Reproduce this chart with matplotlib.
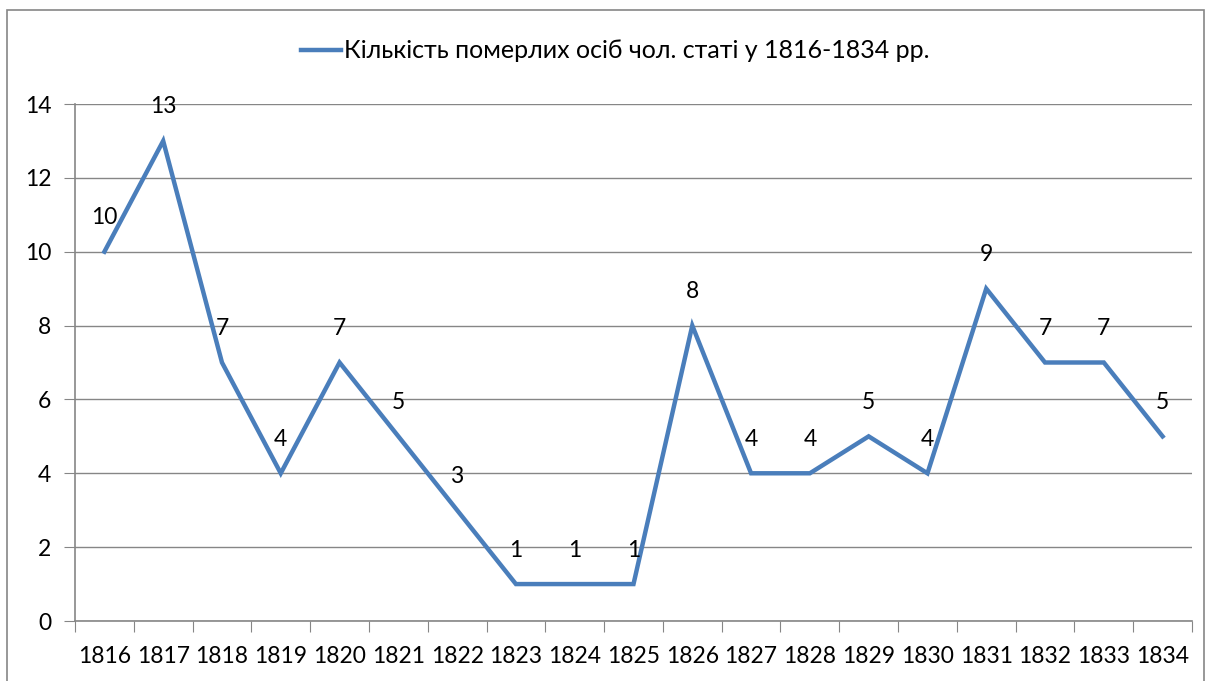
import matplotlib.pyplot as plt
from matplotlib.patches import Rectangle

years = [str(y) for y in range(1816, 1835)]
deaths = [10, 13, 7, 4, 7, 5, 3, 1, 1, 1, 8, 4, 4, 5, 4, 9, 7, 7, 5]
series_name = "Кількість померлих осіб чол. статі у 1816-1834 рр."
y_ticks = [0, 2, 4, 6, 8, 10, 12, 14]

plt.rcParams['font.family'] = ['Lato', 'DejaVu Sans']
grey = '#868686'
blue = '#4A7EBB'
fs = 16.5

fig = plt.figure(figsize=(12.09, 6.81), dpi=100)
ax = fig.add_axes([75 / 1209, 1 - 621 / 681, (1192 - 75) / 1209, (621 - 104) / 681])

x = list(range(len(years)))
ax.plot(x, deaths, color=blue, lw=3.2, label=series_name, solid_joinstyle='miter')

for xi, v in zip(x, deaths):
    ax.annotate(str(v), (xi, v), xytext=(0, 24.5), textcoords='offset points',
                ha='center', va='center', fontsize=fs, color='black')

ax.set_xlim(-0.5, len(years) - 0.5)
ax.set_ylim(0, 14)
ax.set_yticks(y_ticks)
ax.set_yticklabels([str(t) for t in y_ticks], fontsize=fs)
ax.tick_params(axis='y', length=8, color=grey, pad=9)

ax.set_xticks([i - 0.5 for i in range(len(years) + 1)])
ax.set_xticklabels([])
ax.set_xticks(x, minor=True)
ax.set_xticklabels(years, minor=True, fontsize=fs)
ax.tick_params(axis='x', which='major', length=8, color=grey)
ax.tick_params(axis='x', which='minor', length=0, pad=18)

ax.grid(axis='y', color=grey, lw=1)
ax.set_axisbelow(True)
for s in ['top', 'right']:
    ax.spines[s].set_visible(False)
for s in ['left', 'bottom']:
    ax.spines[s].set_color(grey)
    ax.spines[s].set_linewidth(1.2)

fig.legend(loc='center', bbox_to_anchor=(615 / 1209, 1 - 51 / 681), frameon=False,
           fontsize=18, handlelength=1.6, handletextpad=0.1)

fig.patches.append(Rectangle((7 / 1209, -0.05), (1204 - 7) / 1209, 1 - 10 / 681 + 0.05,
                             transform=fig.transFigure, fill=False, edgecolor=grey, lw=1.2))

fig.savefig('out.png', dpi=100)
